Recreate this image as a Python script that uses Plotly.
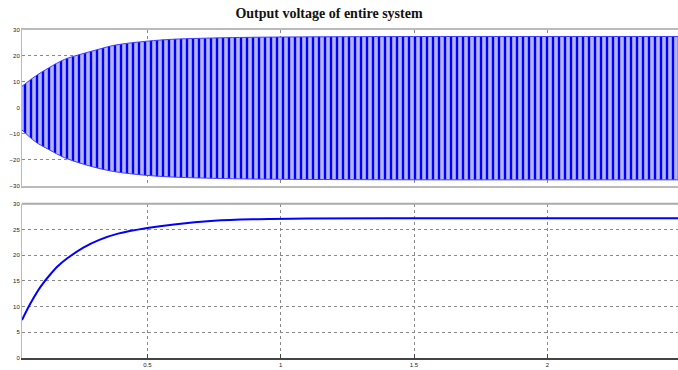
import plotly.graph_objects as go

# ---- data ----
# Top panel: envelope of the switched output voltage (V) vs time (s)
env_t = [0.03, 0.08, 0.13, 0.19, 0.255, 0.315, 0.38, 0.5, 0.59, 0.7, 0.9, 1.2, 1.6, 2.0, 2.5]
env_upper = [8.3, 12.2, 15.4, 18.7, 20.8, 22.5, 24.2, 25.7, 26.4, 26.8, 27.2, 27.4, 27.5, 27.5, 27.5]
env_lower = [-8.5, -13.0, -16.0, -19.2, -21.5, -23.2, -24.6, -26.0, -26.6, -27.0, -27.4, -27.6, -27.7, -27.7, -27.7]

# Bottom panel: output voltage magnitude (V) vs time (s)
out_t = [0.03, 0.05, 0.07, 0.10, 0.135, 0.165, 0.2, 0.26, 0.32, 0.39, 0.5, 0.6, 0.75, 0.9, 1.1, 1.4, 1.8, 2.2, 2.5]
out_v = [7.4, 9.5, 11.4, 13.9, 16.2, 17.9, 19.4, 21.5, 23.0, 24.2, 25.3, 26.0, 26.7, 27.0, 27.15, 27.2, 27.2, 27.2, 27.2]

top_ticks = [-30, -20, -10, 0, 10, 20, 30]
bottom_ticks = [0, 5, 10, 15, 20, 25, 30]
x_ticks = [0.5, 1, 1.5, 2]
x_tick_labels = ["0.5", "1", "1.5", "2"]

title = "Output voltage of entire system"

fig = go.Figure()

fig.add_trace(go.Scatter(x=env_t, y=env_lower, mode="lines", line=dict(color="rgb(60,60,255)", width=1, shape="spline"),
                         xaxis="x2", yaxis="y2", showlegend=False, hoverinfo="skip"))
fig.add_trace(go.Scatter(x=env_t, y=env_upper, mode="lines", line=dict(color="rgb(60,60,255)", width=1, shape="spline"),
                         fill="tonexty",
                         fillpattern=dict(shape="|", fgcolor="rgb(0,0,255)", bgcolor="rgb(180,180,255)",
                                          size=6, solidity=0.4, fillmode="replace"),
                         xaxis="x2", yaxis="y2", showlegend=False, hoverinfo="skip"))

fig.add_trace(go.Scatter(x=out_t, y=out_v, mode="lines", line=dict(color="blue", width=2, shape="spline"),
                         xaxis="x", yaxis="y", showlegend=False))

xr = [0.03, 2.49]
tickfont = dict(family="Liberation Sans", size=6, color="#222")
grid = dict(showgrid=True, gridcolor="#888", griddash="dot", gridwidth=1)

fig.update_layout(
    width=678, height=370,
    margin=dict(l=22, r=0, t=30, b=12, autoexpand=False),
    paper_bgcolor="white", plot_bgcolor="white",
    title=dict(text="<b>" + title + "</b>", x=329 / 678, xanchor="center", y=1 - 13 / 370, yanchor="middle",
               font=dict(family="Liberation Serif", size=14, color="#111")),
    xaxis=dict(domain=[0, 1], anchor="y", range=xr, tickvals=x_ticks, ticktext=x_tick_labels,
               tickfont=tickfont, ticks="inside", ticklen=4, tickcolor="#444", automargin=False,
               showline=True, linecolor="#444", linewidth=2, zeroline=False, **grid),
    yaxis=dict(domain=[0, 0.47], anchor="x", range=[0, 30], tickvals=bottom_ticks, tickfont=tickfont,
               ticks="", showline=True, linecolor="#bbb", linewidth=1, zeroline=False, automargin=False, **grid),
    xaxis2=dict(domain=[0, 1], anchor="y2", range=xr, tickvals=x_ticks, showticklabels=False, automargin=False,
                ticks="", showline=True, linecolor="#bbb", linewidth=2, mirror=True, zeroline=False, **grid),
    yaxis2=dict(domain=[0.525, 1], anchor="x2", range=[-30, 30], tickvals=top_ticks, tickfont=tickfont,
                ticks="", showline=True, linecolor="#bbb", linewidth=1, zeroline=False, automargin=False, **grid),
)

# Top border of the lower panel
fig.update_layout(shapes=[dict(type="line", xref="paper", yref="paper", x0=0, x1=1, y0=0.47, y1=0.47,
                               line=dict(color="#aaa", width=2))])

fig.write_html("out.html", config={"displayModeBar": False},
               post_script="document.body.style.margin='0';")
